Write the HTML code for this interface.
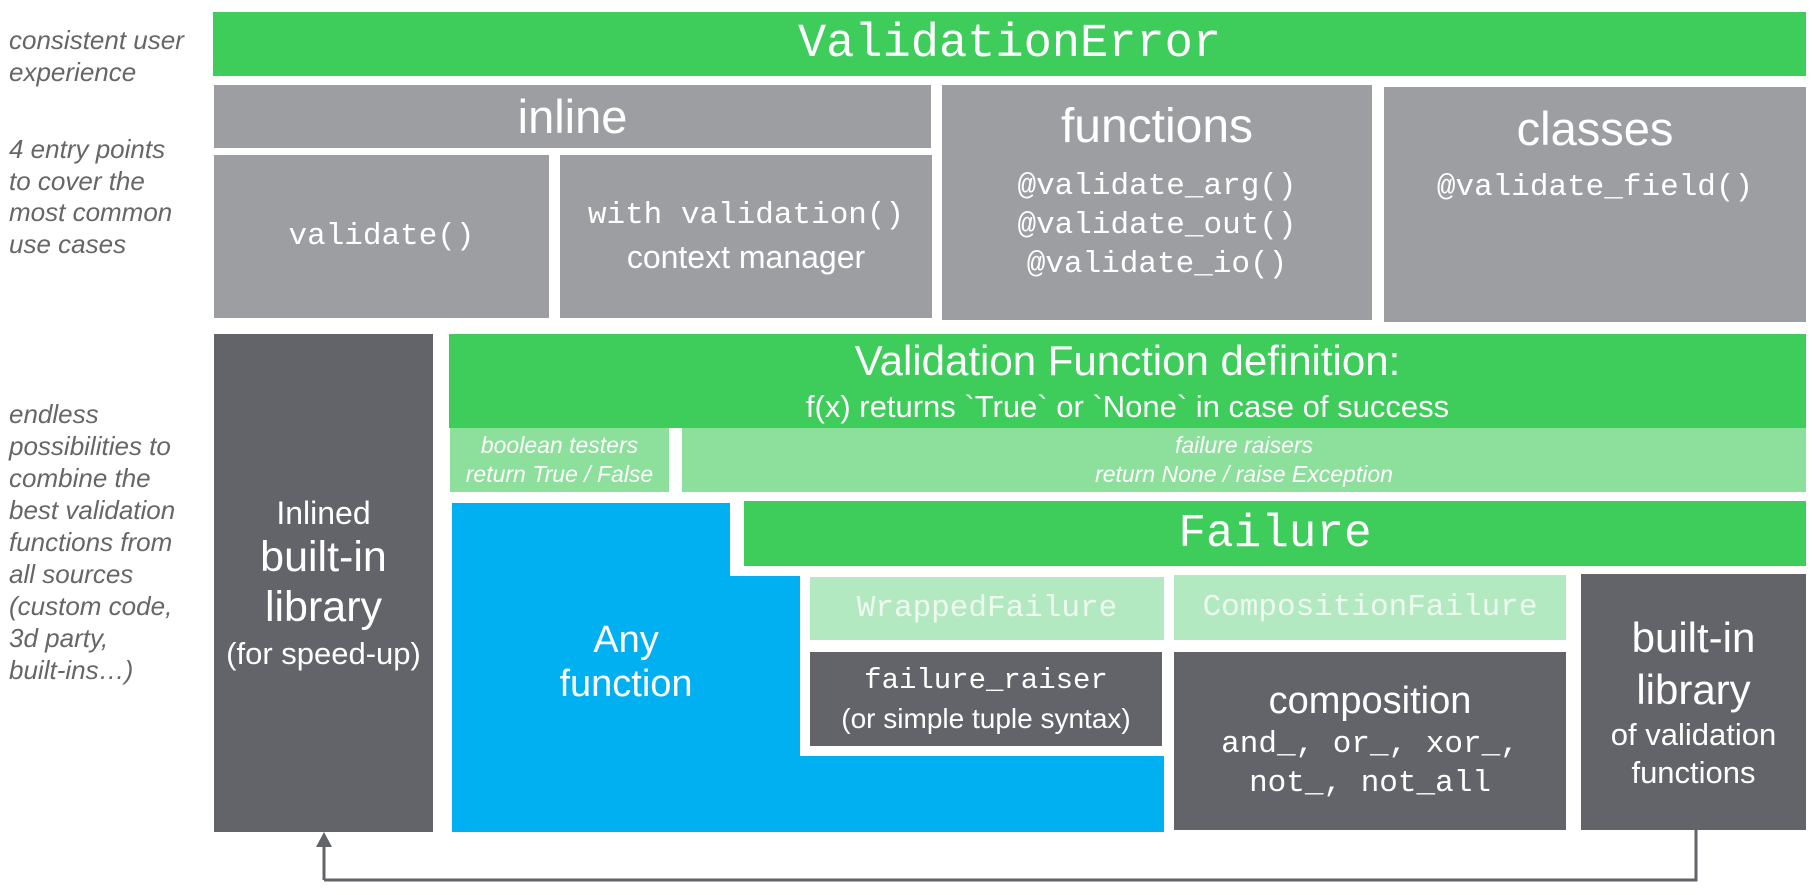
<!DOCTYPE html>
<html><head><meta charset="utf-8"><style>
body{margin:0;width:1819px;height:895px;background:#fff;position:relative;overflow:hidden;font-family:"Liberation Sans",sans-serif}
.b{position:absolute;display:flex;flex-direction:column;align-items:center;justify-content:center;color:#fff;text-align:center}
.m{font-family:"Liberation Mono",monospace}
.g{background:#3ecc5b}.lg{background:#9d9ea2}.dg{background:#636469}.l1{background:#8de09b}.l2{background:#b2e9c0}
.side{position:absolute;left:9px;color:#666;font-style:italic;font-size:26px;line-height:32px;white-space:nowrap}
</style></head><body>
<div class="side" style="top:24px">consistent user<br>experience</div>
<div class="side" style="top:134px;line-height:31.5px">4 entry points<br>to cover the<br>most common<br>use cases</div>
<div class="side" style="top:398px">endless<br>possibilities to<br>combine the<br>best validation<br>functions from<br>all sources<br>(custom code,<br>3d party,<br>built-ins…)</div>

<div class="b g m" style="left:213px;top:12px;width:1593px;height:64px;font-size:47px">ValidationError</div>
<div class="b lg" style="left:214px;top:85px;width:717px;height:63px;font-size:47px">inline</div>
<div class="b lg m" style="left:214px;top:155px;width:335px;height:163px;font-size:31px">validate()</div>
<div class="b lg" style="left:560px;top:155px;width:372px;height:163px"><div class="m" style="font-size:31px;margin-bottom:6px">with validation()</div><div style="font-size:32px">context manager</div></div>
<div class="b lg" style="left:942px;top:85px;width:430px;height:235px;justify-content:flex-start">
<div style="font-size:48px;margin-top:14px">functions</div>
<div class="m" style="font-size:31px;line-height:39px;margin-top:13px">@validate_arg()<br>@validate_out()<br>@validate_io()</div></div>
<div class="b lg" style="left:1384px;top:87px;width:422px;height:235px;justify-content:flex-start">
<div style="font-size:47px;margin-top:14px">classes</div>
<div class="m" style="font-size:31px;margin-top:14px">@validate_field()</div></div>

<div class="b dg" style="left:214px;top:334px;width:219px;height:498px">
<div style="font-size:32px">Inlined</div><div style="font-size:43px;line-height:50px">built-in<br>library</div><div style="font-size:31px;margin-top:4px">(for speed-up)</div></div>

<div class="b g" style="left:449px;top:334px;width:1357px;height:94px"><div style="font-size:42px">Validation Function definition:</div><div style="font-size:31px;margin-top:4px">f(x) returns `True` or `None` in case of success</div></div>
<div class="b l1" style="left:450px;top:428px;width:219px;height:64px;font-size:23px;font-style:italic;line-height:29px;white-space:nowrap">boolean testers<br>return True / False</div>
<div class="b l1" style="left:682px;top:428px;width:1124px;height:64px;font-size:23px;font-style:italic;line-height:29px">failure raisers<br>return None / raise Exception</div>

<svg style="position:absolute;left:0;top:0" width="1819" height="895">
<polygon points="452,503 730,503 730,576 800,576 800,756 1164,756 1164,832 452,832" fill="#00b0f0"/>
<line x1="324" y1="842" x2="324" y2="880" stroke="#636469" stroke-width="3"/>
<line x1="324" y1="880" x2="1696" y2="880" stroke="#636469" stroke-width="3"/>
<line x1="1696" y1="830" x2="1696" y2="881.5" stroke="#636469" stroke-width="3"/>
<polygon points="324,832 316,847 332,847" fill="#636469"/>
</svg>
<div class="b" style="left:452px;top:618px;width:348px;font-size:38px;line-height:44px">Any<br>function</div>

<div class="b g m" style="left:744px;top:501px;width:1062px;height:65px;font-size:46px">Failure</div>
<div class="b l2 m" style="left:810px;top:577px;width:354px;height:63px;font-size:31px;color:#eef9f0">WrappedFailure</div>
<div class="b l2 m" style="left:1174px;top:575px;width:392px;height:65px;font-size:31px;color:#eef9f0;white-space:nowrap">CompositionFailure</div>
<div class="b dg" style="left:810px;top:652px;width:352px;height:94px;white-space:nowrap"><div class="m" style="font-size:29px">failure_raiser</div><div style="font-size:28px;margin-top:6px">(or simple tuple syntax)</div></div>
<div class="b dg" style="left:1174px;top:652px;width:392px;height:178px;white-space:nowrap"><div style="font-size:38px">composition</div><div class="m" style="font-size:31px;line-height:39px;margin-top:2px">and_, or_, xor_,<br>not_, not_all</div></div>
<div class="b dg" style="left:1581px;top:574px;width:225px;height:256px;white-space:nowrap"><div style="font-size:42px;line-height:52px">built-in<br>library</div><div style="font-size:31px;line-height:38px">of validation<br>functions</div></div>
</body></html>
